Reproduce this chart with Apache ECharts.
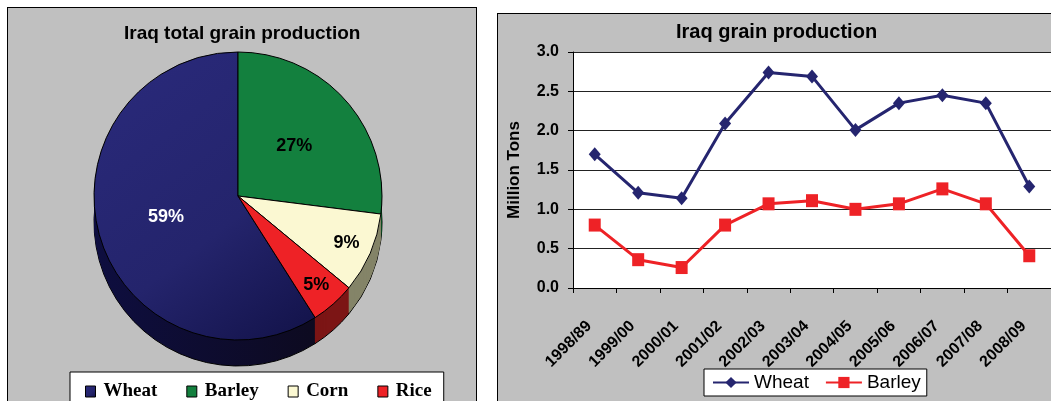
<!DOCTYPE html>
<html><head><meta charset="utf-8">
<script src="https://cdn.jsdelivr.net/npm/echarts@6/dist/echarts.min.js"></script>
<style>
html,body{margin:0;padding:0;background:#fff;width:1051px;height:401px;overflow:hidden;}
.panel{position:absolute;background:#c0c0c0;border:1.5px solid #000;box-sizing:border-box;}
#pl{left:7px;top:7px;width:470px;height:420px;}
#pr{left:497px;top:13px;width:600px;height:420px;}
#l{position:absolute;left:0;top:0;width:487px;height:401px;}
#r{position:absolute;left:487px;top:0;width:564px;height:401px;}
</style>
</head><body>
<div class="panel" id="pl"></div><div class="panel" id="pr"></div>
<div id="l"></div><div id="r"></div>
<script>
// ---- data ----
const pieNames = ['Wheat', 'Barley', 'Corn', 'Rice'];
const pieShares = [59, 27, 9, 5];
const seasons = ['1998/89','1999/00','2000/01','2001/02','2002/03','2003/04','2004/05','2005/06','2006/07','2007/08','2008/09'];
const wheat = [1.70, 1.21, 1.14, 2.09, 2.74, 2.69, 2.01, 2.35, 2.45, 2.35, 1.29];
const barley = [0.80, 0.36, 0.26, 0.80, 1.07, 1.11, 1.00, 1.07, 1.26, 1.07, 0.41];
const yTickLabels = ['0.0', '0.5', '1.0', '1.5', '2.0', '2.5', '3.0'];

// ---- styles ----
const topColors = [
  {type:'linear', x:0, y:0, x2:1, y2:1, colorStops:[{offset:0,color:'#2a2a7c'},{offset:0.6,color:'#24246c'},{offset:1,color:'#121248'}]},
  '#13803e', '#fbf8d2', '#ee2226'
];
const sideColors = [
  {type:'linear', x:0, y:0, x2:1, y2:0, colorStops:[{offset:0,color:'#0e0e40'},{offset:1,color:'#0d0a20'}]},
  '#0b4d24', '#848468', '#7c1515'
];
const labelColors = ['#fff', '#000', '#000', '#000'];
const total = pieShares.reduce((a, b) => a + b, 0);
const startAngle = 90 + pieShares[0] / total * 360;
const CX = 238, CY = 196, R = 144, DEPTH = 26;

const left = echarts.init(document.getElementById('l'));
const pieSeries = [];
pieSeries.push({
  type:'pie', name:'top', center:[CX, CY], radius:[0, R], startAngle, clockwise:true,
  z:10, silent:true, avoidLabelOverlap:false, emphasis:{disabled:true},
  itemStyle:{borderColor:'#000', borderWidth:1},
  label:{show:true, position:'inside', fontFamily:'Liberation Sans, Arial', fontWeight:'bold', fontSize:18,
    formatter: p => p.percent >= 20 ? p.value + '%' : ''},
  labelLine:{show:false},
  data: pieNames.map((n, i) => ({name:n, value:pieShares[i], itemStyle:{color:topColors[i]}, label:{color:labelColors[i]}}))
});
pieSeries.push({
  type:'pie', name:'labels', center:[CX, CY], radius:[R * 0.6, R], startAngle, clockwise:true,
  z:11, silent:true, avoidLabelOverlap:false, emphasis:{disabled:true},
  itemStyle:{color:'rgba(0,0,0,0)', borderWidth:0},
  label:{show:true, position:'inside', fontFamily:'Liberation Sans, Arial', fontWeight:'bold', fontSize:18, color:'#000',
    formatter: p => p.percent < 20 ? p.value + '%' : ''},
  labelLine:{show:false},
  data: pieNames.map((n, i) => ({name:n, value:pieShares[i]}))
});
for (let k = DEPTH; k >= 1; k--) {
  pieSeries.push({
    type:'pie', name:'side' + k, center:[CX, CY + k], radius:[0, R], startAngle, clockwise:true,
    z:2, silent:true, emphasis:{disabled:true}, label:{show:false}, labelLine:{show:false},
    itemStyle:{borderColor:'#000', borderWidth: k === DEPTH ? 1 : 0},
    data: pieNames.map((n, i) => ({name:n, value:pieShares[i], itemStyle:{color:sideColors[i]}}))
  });
}
left.setOption({
  animation:false,
  title:{text:'Iraq total grain production', left:124, top:24, padding:0,
    textStyle:{fontFamily:'Liberation Sans, Arial', fontWeight:'bold', fontSize:19, color:'#000'}},
  legend:{data:pieNames, left:70, top:372, padding:[10,12,10,15], backgroundColor:'#fff', borderColor:'#000', borderWidth:1,
    icon:'rect', itemWidth:10, itemHeight:11, itemGap:29, selectedMode:false,
    itemStyle:{borderColor:'#000', borderWidth:1},
    textStyle:{fontFamily:'Liberation Serif, Times New Roman', fontWeight:'bold', fontSize:19, color:'#000', padding:[0,0,0,3]}},
  series: pieSeries
});

const right = echarts.init(document.getElementById('r'));
right.setOption({
  animation:false,
  title:{text:'Iraq grain production', left:189, top:22, padding:0,
    textStyle:{fontFamily:'Liberation Sans, Arial', fontWeight:'bold', fontSize:20, color:'#000'}},
  legend:{data:['Wheat','Barley'], left:217, top:369, padding:[4,6,4,8], backgroundColor:'#fff', borderColor:'#000', borderWidth:1,
    itemWidth:36, itemHeight:14, itemGap:16, selectedMode:false,
    textStyle:{fontFamily:'Liberation Sans, Arial', fontSize:19, color:'#000'}},
  grid:{left:86, right:0, top:52, bottom:113, show:true, backgroundColor:'#fff', borderWidth:0, outerBoundsMode:'none'},
  xAxis:{type:'category', data:seasons, boundaryGap:true,
    axisLine:{show:true, lineStyle:{color:'#000', width:1}},
    axisTick:{show:true, length:5, inside:false, lineStyle:{color:'#000'}},
    splitLine:{show:false},
    axisLabel:{rotate:45, interval:0, margin:30, padding:[0,8,0,0], fontFamily:'Liberation Sans, Arial', fontWeight:'bold', fontSize:16, color:'#000'}},
  yAxis:{type:'value', min:0, max:3, interval:0.5,
    name:'Million Tons', nameLocation:'middle', nameGap:50, nameRotate:90,
    nameTextStyle:{fontFamily:'Liberation Sans, Arial', fontWeight:'bold', fontSize:17, color:'#000'},
    axisLine:{show:true, lineStyle:{color:'#000', width:1}},
    axisTick:{show:true, length:5, inside:false, lineStyle:{color:'#000'}},
    axisLabel:{margin:14, fontFamily:'Liberation Sans, Arial', fontWeight:'bold', fontSize:16, color:'#000',
      formatter: v => yTickLabels[Math.round(v / 0.5)]},
    splitLine:{show:true, lineStyle:{color:'#222', width:1}}},
  series:[
    {type:'line', name:'Wheat', data:wheat, symbol:'diamond', symbolSize:[12,14],
      lineStyle:{width:3, color:'#25256f'}, itemStyle:{color:'#25256f'}, emphasis:{disabled:true}},
    {type:'line', name:'Barley', data:barley, symbol:'rect', symbolSize:[12,13],
      lineStyle:{width:3, color:'#ee2226'}, itemStyle:{color:'#ee2226'}, emphasis:{disabled:true}}
  ]
});
</script>
</body></html>
